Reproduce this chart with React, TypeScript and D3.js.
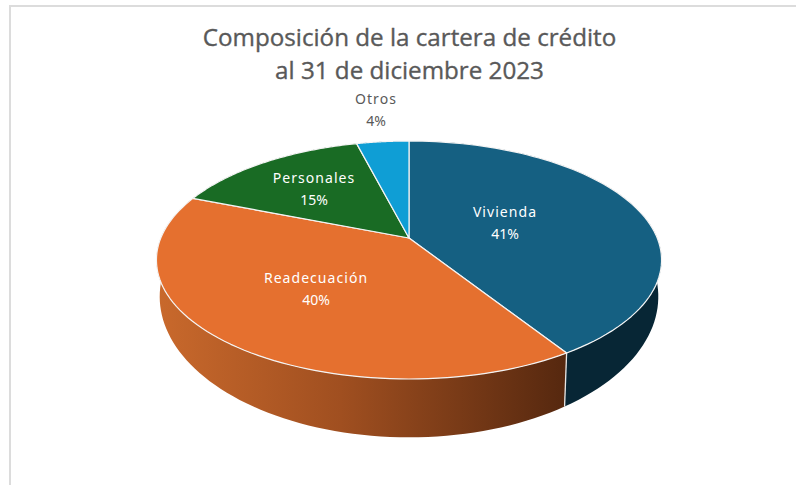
import React from "react";
import * as d3 from "d3";

const categories = ["Vivienda", "Readecuación", "Personales", "Otros"];
const shares = [41, 40, 15, 4];
const sliceColors = ["#156082", "#E5702F", "#196B24", "#0F9ED5"];
const wallColors = ["#072635", "url(#wallOrange)", "#0c3512", "#075a78"];
const labelColors = ["#ffffff", "#ffffff", "#ffffff", "#595959"];
const labelCenters: [number, number][] = [[505, 212], [316, 278], [314, 178], [376, 99]];
const titleLines = ["Composición de la cartera de crédito", "al 31 de diciembre 2023"];

const apexX = 409, persp = -0.185;
const topDisc = { cy: 238, rx: 248.2, ry: 114.9 };
const baseDisc = { cy: 270.5, rx: 245, ry: 136 };

// Perspective projection of a pie disc onto the page.
const project = (t: number, disc = topDisc): [number, number] => {
  const X = Math.sin(t), Y = -Math.cos(t), w = 1 + persp * Y;
  return [apexX + (disc.rx * X) / w, disc.cy + (disc.ry * Y) / w];
};

const samples = (a: number, b: number) =>
  d3.range(0, 81).map((i) => a + ((b - a) * i) / 80);

const line = d3.line();

export default function App() {
  const arcs = d3.pie<number>().sort(null)(shares);
  const seam = arcs[0].endAngle;
  return (
    <svg width={796} height={485} style={{ position: "absolute", left: 0, top: 0, background: "#fff" }}>
      <defs>
        <linearGradient id="wallOrange" gradientUnits="userSpaceOnUse" x1={157} x2={565} y1={0} y2={0}>
          <stop offset="0" stopColor="#C9692C" />
          <stop offset="0.45" stopColor="#A04F20" />
          <stop offset="1" stopColor="#56280F" />
        </linearGradient>
      </defs>
      <path d="M10 485V6H796" fill="none" stroke="#dcdcdc" strokeWidth={2} />
      {arcs.map((a, i) => {
        const top = samples(a.startAngle, a.endAngle).map((t) => project(t));
        const bottom = samples(a.endAngle, a.startAngle).map((t) => project(t, baseDisc));
        return <path key={i} d={line([...top, ...bottom])! + "Z"} fill={wallColors[i]} />;
      })}
      <path d={line([project(seam), project(seam, baseDisc)])!} stroke="#e6e6e6" strokeWidth={1.3} fill="none" />
      {arcs.map((a, i) => (
        <path
          key={i}
          d={line([[apexX, topDisc.cy], ...samples(a.startAngle, a.endAngle).map((t) => project(t))])! + "Z"}
          fill={sliceColors[i]}
          stroke="#f4f4f4"
          strokeWidth={1.2}
          strokeLinejoin="round"
        />
      ))}
      <g fontFamily="'Open Sans', sans-serif" fontSize={24.2} fill="#595959" stroke="#595959" strokeWidth={0.35} textAnchor="middle">
        {titleLines.map((t, i) => (
          <text key={i} x={409.5} y={45.5 + i * 33}>{t}</text>
        ))}
      </g>
      <g fontFamily="'Noto Sans', sans-serif" fontSize={14} textAnchor="middle">
        {categories.map((c, i) => (
          <text key={c} fill={labelColors[i]} x={labelCenters[i][0]} y={labelCenters[i][1]}>
            <tspan x={labelCenters[i][0]} dy={5} letterSpacing={1.05}>{c}</tspan>
            <tspan x={labelCenters[i][0]} dy={22}>{shares[i]}%</tspan>
          </text>
        ))}
      </g>
    </svg>
  );
}
